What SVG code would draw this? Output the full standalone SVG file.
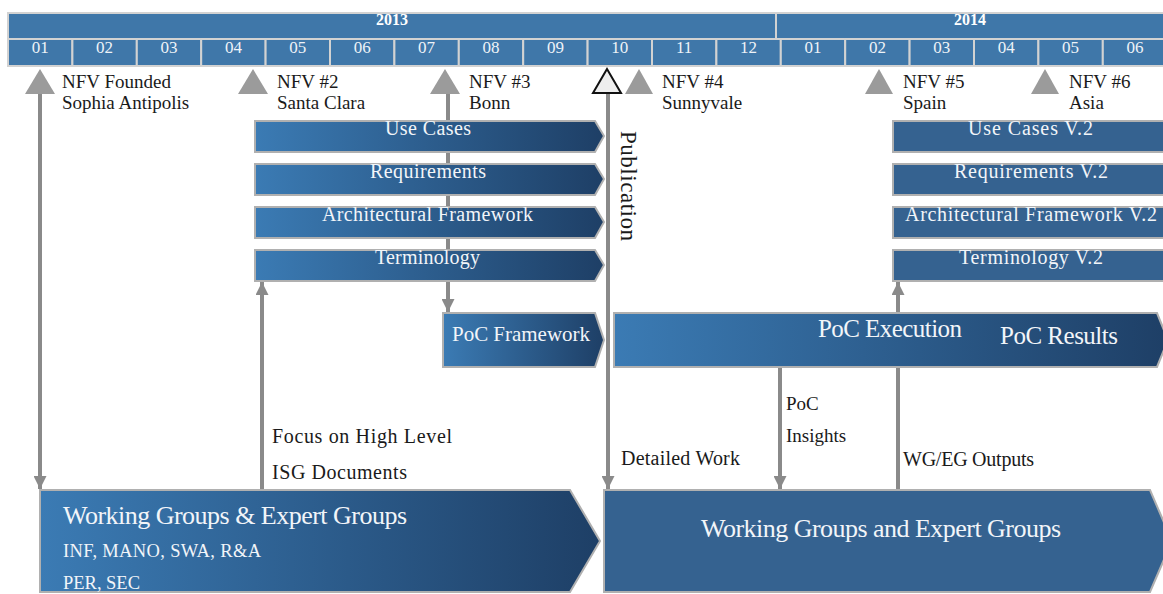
<svg xmlns="http://www.w3.org/2000/svg" width="1163" height="594" viewBox="0 0 1163 594">
  <defs>
    <linearGradient id="barGrad" x1="0" y1="0" x2="1" y2="0">
      <stop offset="0" stop-color="#3b7bb4"/>
      <stop offset="1" stop-color="#1e3f66"/>
    </linearGradient>
    <marker id="arrowHead" viewBox="0 0 12 12" refX="12" refY="6" markerWidth="13" markerHeight="13" markerUnits="userSpaceOnUse" orient="auto">
      <path d="M0,0 L12,6 L0,12 z" fill="#8a8a8a"/>
    </marker>
    <style>
      .cell { fill: #3f77a9; stroke: #d2d2d2; stroke-width: 2; }
      .year { font-family: "Liberation Serif", serif; font-size: 16px; font-weight: bold; fill: #ffffff; text-anchor: middle; }
      .month { font-family: "Liberation Serif", serif; font-size: 17px; fill: #eef3f8; text-anchor: middle; }
      .mile { fill: #9b9b9b; }
      .pub { fill: #eeeeee; stroke: #111111; stroke-width: 2; }
      .lbl { font-family: "Liberation Serif", serif; font-size: 19px; fill: #1a1a1a; }
      .note { font-family: "Liberation Serif", serif; font-size: 20px; fill: #1a1a1a; }
      .bar { fill: url(#barGrad); stroke: #b0b0b0; stroke-width: 2; }
      .flat { fill: #356290; stroke: #b0b0b0; stroke-width: 2; }
      .bt { font-family: "Liberation Serif", serif; font-size: 20px; fill: #f2f5f9; }
      .bt-md { font-size: 21px; }
      .bt-lg { font-size: 25px; }
      .bt-xl { font-size: 26px; }
      .bt-sm { font-size: 18.5px; }
      .vert { font-size: 23px; }
      .conn { stroke: #8a8a8a; stroke-width: 4; fill: none; marker-end: url(#arrowHead); }
    </style>
  </defs>

  <rect width="1163" height="594" fill="#ffffff"/>

  <!-- timeline header: years and months -->
  <g id="timeline">
    <rect class="cell" x="8" y="13" width="768" height="26"/>
    <rect class="cell" x="776" y="13" width="395" height="26"/>
    <text class="year" x="392" y="25">2013</text>
    <text class="year" x="970" y="25">2014</text>
    <rect class="cell" x="8" y="39" width="64.4" height="27"/>
    <rect class="cell" x="72.4" y="39" width="64.4" height="27"/>
    <rect class="cell" x="136.8" y="39" width="64.4" height="27"/>
    <rect class="cell" x="201.2" y="39" width="64.4" height="27"/>
    <rect class="cell" x="265.6" y="39" width="64.4" height="27"/>
    <rect class="cell" x="330" y="39" width="64.4" height="27"/>
    <rect class="cell" x="394.4" y="39" width="64.4" height="27"/>
    <rect class="cell" x="458.8" y="39" width="64.4" height="27"/>
    <rect class="cell" x="523.2" y="39" width="64.4" height="27"/>
    <rect class="cell" x="587.6" y="39" width="64.4" height="27"/>
    <rect class="cell" x="652" y="39" width="64.4" height="27"/>
    <rect class="cell" x="716.4" y="39" width="64.4" height="27"/>
    <rect class="cell" x="780.8" y="39" width="64.4" height="27"/>
    <rect class="cell" x="845.2" y="39" width="64.4" height="27"/>
    <rect class="cell" x="909.6" y="39" width="64.4" height="27"/>
    <rect class="cell" x="974" y="39" width="64.4" height="27"/>
    <rect class="cell" x="1038.4" y="39" width="64.4" height="27"/>
    <rect class="cell" x="1102.8" y="39" width="64.4" height="27"/>
    <text class="month" x="40.2" y="53">01</text>
    <text class="month" x="104.6" y="53">02</text>
    <text class="month" x="169" y="53">03</text>
    <text class="month" x="233.4" y="53">04</text>
    <text class="month" x="297.8" y="53">05</text>
    <text class="month" x="362.2" y="53">06</text>
    <text class="month" x="426.6" y="53">07</text>
    <text class="month" x="491" y="53">08</text>
    <text class="month" x="555.4" y="53">09</text>
    <text class="month" x="619.8" y="53">10</text>
    <text class="month" x="684.2" y="53">11</text>
    <text class="month" x="748.6" y="53">12</text>
    <text class="month" x="813" y="53">01</text>
    <text class="month" x="877.4" y="53">02</text>
    <text class="month" x="941.8" y="53">03</text>
    <text class="month" x="1006.2" y="53">04</text>
    <text class="month" x="1070.6" y="53">05</text>
    <text class="month" x="1135" y="53">06</text>
  </g>

  <!-- connectors -->
  <g id="connectors">
    <line class="conn" x1="40" y1="94" x2="40" y2="489"/>
    <line class="conn" x1="448" y1="94" x2="448" y2="312"/>
    <line class="conn" x1="262" y1="490" x2="262" y2="282"/>
    <line class="conn" x1="608" y1="94" x2="608" y2="489"/>
    <line class="conn" x1="780" y1="367" x2="780" y2="489"/>
    <line class="conn" x1="898" y1="490" x2="898" y2="282"/>
    <text class="note" x="272" y="443" textLength="180" lengthAdjust="spacing">Focus on High Level</text>
    <text class="note" x="272" y="479" textLength="135" lengthAdjust="spacing">ISG Documents</text>
    <text class="note" x="621" y="465" textLength="119" lengthAdjust="spacing">Detailed Work</text>
    <text class="lbl" x="786" y="410">PoC</text>
    <text class="lbl" x="786" y="442">Insights</text>
    <text class="note" x="903" y="466" textLength="131" lengthAdjust="spacing">WG/EG Outputs</text>
  </g>

  <!-- milestones -->
  <g id="m-founded">
    <polygon class="mile" points="40,69 55,94 25,94"/>
    <text class="lbl" x="62" y="88">NFV Founded</text>
    <text class="lbl" x="62" y="109">Sophia Antipolis</text>
  </g>
  <g id="m-nfv2">
    <polygon class="mile" points="253,69 268,94 238,94"/>
    <text class="lbl" x="277" y="88">NFV #2</text>
    <text class="lbl" x="277" y="109">Santa Clara</text>
  </g>
  <g id="m-nfv3">
    <polygon class="mile" points="445,69 460,94 430,94"/>
    <text class="lbl" x="469" y="88">NFV #3</text>
    <text class="lbl" x="469" y="109">Bonn</text>
  </g>
  <g id="m-publication">
    <polygon class="pub" points="607,69 621,93 593,93"/>
    <text class="lbl vert" transform="translate(621,131) rotate(90)" textLength="110" lengthAdjust="spacing">Publication</text>
  </g>
  <g id="m-nfv4">
    <polygon class="mile" points="639,69 653,94 625,94"/>
    <text class="lbl" x="662" y="88">NFV #4</text>
    <text class="lbl" x="662" y="109">Sunnyvale</text>
  </g>
  <g id="m-nfv5">
    <polygon class="mile" points="879,69 893,94 865,94"/>
    <text class="lbl" x="903" y="88">NFV #5</text>
    <text class="lbl" x="903" y="109">Spain</text>
  </g>
  <g id="m-nfv6">
    <polygon class="mile" points="1045,69 1059,94 1031,94"/>
    <text class="lbl" x="1069" y="88">NFV #6</text>
    <text class="lbl" x="1069" y="109">Asia</text>
  </g>

  <!-- first release documents -->
  <g id="use-cases">
    <polygon class="bar" points="255,121 595,121 604,136 595,152 255,152"/>
    <text class="bt" x="385" y="135" textLength="86" lengthAdjust="spacing">Use Cases</text>
  </g>
  <g id="requirements">
    <polygon class="bar" points="255,164 595,164 604,179 595,195 255,195"/>
    <text class="bt" x="370" y="178" textLength="116" lengthAdjust="spacing">Requirements</text>
  </g>
  <g id="arch-framework">
    <polygon class="bar" points="255,207 595,207 604,222 595,238 255,238"/>
    <text class="bt" x="322" y="221" textLength="211" lengthAdjust="spacing">Architectural Framework</text>
  </g>
  <g id="terminology">
    <polygon class="bar" points="255,250 595,250 604,265 595,281 255,281"/>
    <text class="bt" x="375" y="264" textLength="105" lengthAdjust="spacing">Terminology</text>
  </g>

  <!-- second release documents -->
  <g id="use-cases-v2">
    <rect class="flat" x="893" y="121" width="290" height="31"/>
    <text class="bt" x="968" y="135" textLength="125" lengthAdjust="spacing">Use Cases V.2</text>
  </g>
  <g id="requirements-v2">
    <rect class="flat" x="893" y="164" width="290" height="31"/>
    <text class="bt" x="954" y="178" textLength="154" lengthAdjust="spacing">Requirements V.2</text>
  </g>
  <g id="arch-framework-v2">
    <rect class="flat" x="893" y="207" width="290" height="31"/>
    <text class="bt" x="905" y="221" textLength="252" lengthAdjust="spacing">Architectural Framework V.2</text>
  </g>
  <g id="terminology-v2">
    <rect class="flat" x="893" y="250" width="290" height="31"/>
    <text class="bt" x="959" y="264" textLength="144" lengthAdjust="spacing">Terminology V.2</text>
  </g>

  <!-- proof of concept -->
  <g id="poc-framework">
    <polygon class="bar" points="443,313 595,313 604,340 595,367 443,367"/>
    <text class="bt bt-md" x="452" y="341" textLength="138" lengthAdjust="spacing">PoC Framework</text>
  </g>
  <g id="poc-execution">
    <polygon class="bar" points="614,313 1157,313 1168,340 1157,367 614,367"/>
    <text class="bt bt-lg" x="818" y="337" textLength="144" lengthAdjust="spacing">PoC Execution</text>
    <text class="bt bt-lg" x="1000" y="344" textLength="118" lengthAdjust="spacing">PoC Results</text>
  </g>

  <!-- working groups -->
  <g id="wg-first">
    <polygon class="bar" points="40,490 570,490 600,541 570,592 40,592"/>
    <text class="bt bt-xl" x="63" y="524" textLength="344" lengthAdjust="spacing">Working Groups &amp; Expert Groups</text>
    <text class="bt bt-sm" x="63" y="557" textLength="198" lengthAdjust="spacing">INF, MANO, SWA, R&amp;A</text>
    <text class="bt bt-sm" x="63" y="589" textLength="77" lengthAdjust="spacing">PER, SEC</text>
  </g>
  <g id="wg-second">
    <polygon class="flat" points="604,490 1150,490 1172,541 1150,592 604,592"/>
    <text class="bt bt-xl" x="701" y="537" textLength="360" lengthAdjust="spacing">Working Groups and Expert Groups</text>
  </g>
</svg>
